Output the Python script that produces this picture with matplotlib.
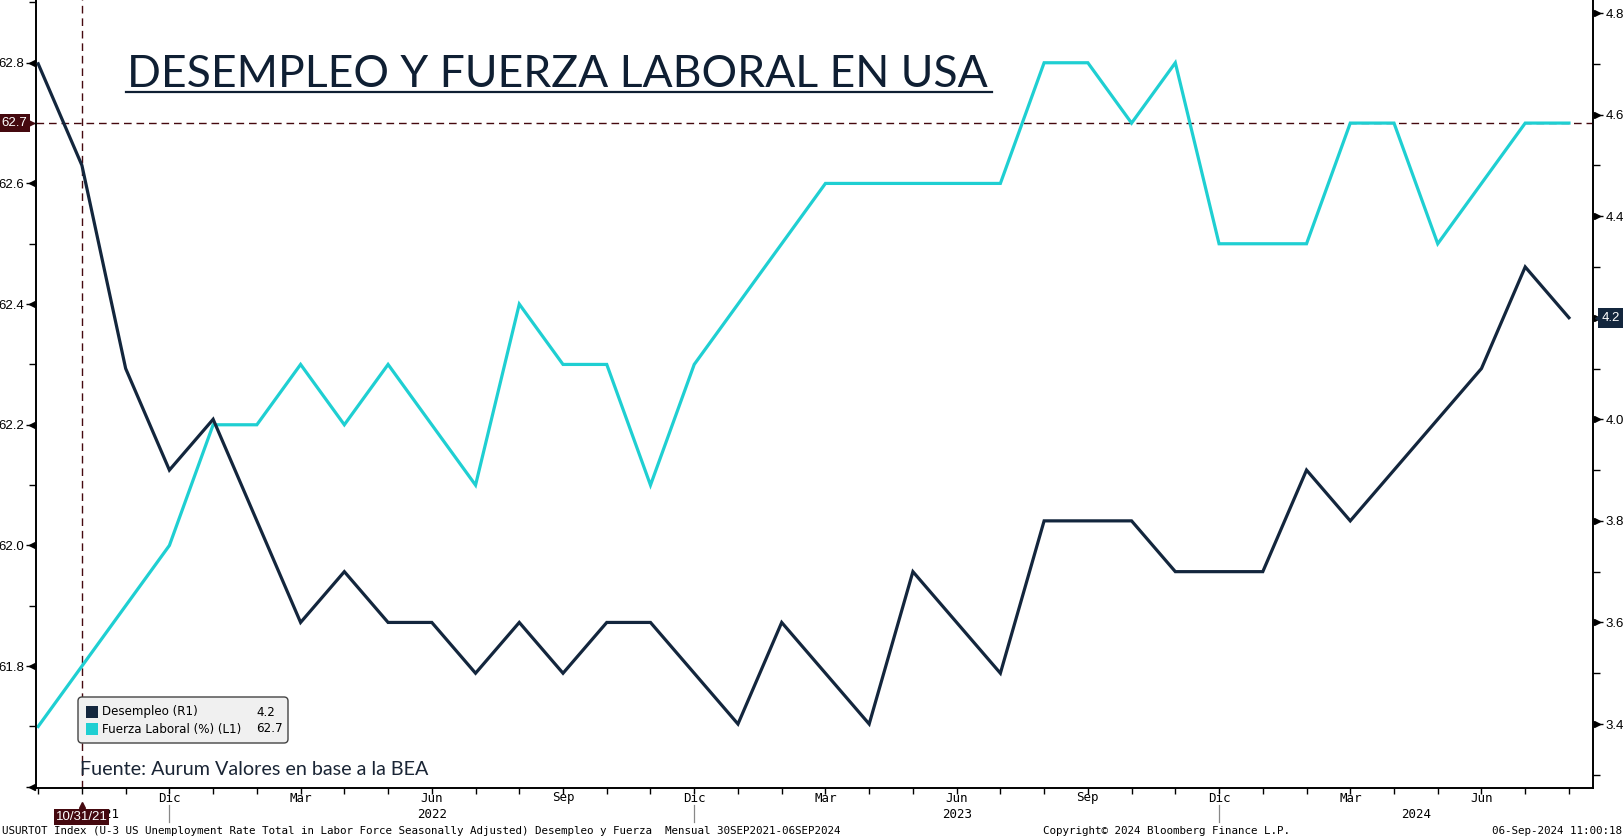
import matplotlib
matplotlib.use('Agg')
import matplotlib.pyplot as plt
import matplotlib.transforms as mtransforms
from matplotlib.patches import FancyBboxPatch, Rectangle
import numpy as np
import pandas as pd

W, H = 1624, 840

# monthly data, Sep 2021 - Aug 2024
fechas = pd.period_range('2021-09', '2024-08', freq='M')
desempleo = [4.7, 4.5, 4.1, 3.9, 4.0, 3.8, 3.6, 3.7, 3.6, 3.6, 3.5, 3.6,
             3.5, 3.6, 3.6, 3.5, 3.4, 3.6, 3.5, 3.4, 3.7, 3.6, 3.5, 3.8,
             3.8, 3.8, 3.7, 3.7, 3.7, 3.9, 3.8, 3.9, 4.0, 4.1, 4.3, 4.2]
fuerza = [61.7, 61.8, 61.9, 62.0, 62.2, 62.2, 62.3, 62.2, 62.3, 62.2, 62.1, 62.4,
          62.3, 62.3, 62.1, 62.3, 62.4, 62.5, 62.6, 62.6, 62.6, 62.6, 62.6, 62.8,
          62.8, 62.7, 62.8, 62.5, 62.5, 62.5, 62.7, 62.7, 62.5, 62.6, 62.7, 62.7]
nombres_mes = {3: 'Mar', 6: 'Jun', 9: 'Sep', 12: 'Dic'}
fecha_marca = '10/31/21'
idx_marca = 1

navy = '#13263d'
cyan = '#1fcfd2'
maroon = '#45090f'
fnum = 'Liberation Sans'

x = np.arange(len(fechas))

def fx(px):
    return px / W

def fy(py):
    return 1 - py / H

fig = plt.figure(figsize=(W / 100, H / 100), dpi=100)
ax = fig.add_axes([fx(36), fy(788), fx(1593) - fx(36), 788 / H])
ax2 = ax.twinx()

ax.plot(x, fuerza, color=cyan, lw=2.3, solid_joinstyle='miter', zorder=3)
ax2.plot(x, desempleo, color=navy, lw=2.3, solid_joinstyle='miter', zorder=3)

ax.set_xlim(-0.05, 35.55)
ax.set_ylim(61.598, 62.904)
ax2.set_ylim(3.274, 4.8256)

for a in (ax, ax2):
    a.spines['top'].set_visible(False)
    for s in ('left', 'right', 'bottom'):
        a.spines[s].set_linewidth(1.2)
        a.spines[s].set_color('black')

# x ticks: every month, labels done by hand
ax.set_xticks(x)
ax.set_xticklabels([])
ax.tick_params(axis='x', length=4, width=1, direction='out', color='black')
xt = ax.get_xaxis_transform()
for i, p in enumerate(fechas):
    if p.month in nombres_mes and i > 0:
        ax.text(i, -10 / 788, nombres_mes[p.month], transform=xt, ha='center', va='center',
                fontsize=9, family='DejaVu Sans Mono', color='black', clip_on=False)
    if p.month == 12:
        ax.plot([i, i], [-17 / 788, -34 / 788], transform=xt, color='#888888', lw=0.9, clip_on=False)
for anio in sorted(set(p.year for p in fechas)):
    pos = [i for i, p in enumerate(fechas) if p.year == anio]
    if len(pos) == 12:
        xc = pos[5]
    else:
        xc = (pos[0] + pos[-1]) / 2
    ax.text(xc, -26 / 788, str(anio), transform=xt, ha='center', va='center',
            fontsize=9, family='DejaVu Sans Mono', color='black', clip_on=False, zorder=2)

# left axis ticks
maj_l = np.round(np.arange(61.6, 62.81, 0.2), 1)
ax.set_yticks(maj_l)
ax.set_yticklabels(['' if v == 61.6 else f'{v:.1f}' for v in maj_l], family=fnum)
ax.set_yticks(np.round(np.arange(61.7, 62.91, 0.2), 1), minor=True)
ax.tick_params(axis='y', which='major', length=7, width=1, pad=1.5, labelsize=9.5, labelcolor='black')
ax.tick_params(axis='y', which='minor', length=5, width=1)
tl = mtransforms.offset_copy(ax.get_yaxis_transform(), fig, x=-4, units='dots')
ax.plot([0] * len(maj_l), maj_l, ls='none', marker='<', ms=4.5, color='black',
        transform=tl, clip_on=False)

# right axis ticks
maj_r = np.round(np.arange(3.4, 4.81, 0.2), 1)
ax2.set_yticks(maj_r)
ax2.set_yticklabels(['' if v == desempleo[-1] else f'{v:.1f}' for v in maj_r], family=fnum)
ax2.set_yticks(np.round(np.arange(3.3, 4.71, 0.2), 1), minor=True)
ax2.tick_params(axis='y', which='major', length=7, width=1, pad=2, labelsize=9.5, labelcolor='black')
ax2.tick_params(axis='y', which='minor', length=5, width=1)
tr = mtransforms.offset_copy(ax2.get_yaxis_transform(), fig, x=4, units='dots')
ax2.plot([1] * len(maj_r), maj_r, ls='none', marker='>', ms=4.5, color='black',
         transform=tr, clip_on=False)

# crosshair lines
ax.axhline(fuerza[-1], color=maroon, lw=1.0, dashes=(5.5, 3.5), zorder=2)
ax.axvline(idx_marca, color=maroon, lw=1.0, dashes=(5.5, 3.5), zorder=2)

# value tags
t = mtransforms.offset_copy(ax.get_yaxis_transform(), fig, x=-9, units='dots')
ax.text(0, fuerza[-1], f'{fuerza[-1]:.1f}', transform=t, ha='right', va='center', fontsize=9.5,
        family=fnum, color='white', bbox=dict(boxstyle='square,pad=0.25', fc=maroon, ec='none'),
        clip_on=False, zorder=6)
ax.plot([0], [fuerza[-1]], ls='none', marker='>', ms=5, color=maroon,
        transform=mtransforms.offset_copy(ax.get_yaxis_transform(), fig, x=-5, units='dots'),
        clip_on=False, zorder=6)

t = mtransforms.offset_copy(ax2.get_yaxis_transform(), fig, x=9, units='dots')
ax2.text(1, desempleo[-1], f'{desempleo[-1]:.1f}', transform=t, ha='left', va='center', fontsize=9.5,
         family=fnum, color='white', bbox=dict(boxstyle='square,pad=0.3', fc=navy, ec='none'),
         clip_on=False, zorder=6)
ax2.plot([1], [desempleo[-1]], ls='none', marker='<', ms=5, color=navy,
         transform=mtransforms.offset_copy(ax2.get_yaxis_transform(), fig, x=5, units='dots'),
         clip_on=False, zorder=6)

ax.text(idx_marca, -29 / 788, fecha_marca, transform=xt, ha='center', va='center', fontsize=9.5,
        family=fnum, color='white', bbox=dict(boxstyle='square,pad=0.12', fc=maroon, ec='none'),
        clip_on=False, zorder=6)
ax.plot([idx_marca], [-17 / 788], ls='none', marker='^', ms=5, color=maroon, transform=xt,
        clip_on=False, zorder=6)

# legend box
leg = FancyBboxPatch((78, H - 743), 210, 46, boxstyle='round,pad=0,rounding_size=4',
                     transform=None, fc='#f0f0f0', ec='#444444', lw=1, zorder=10)
fig.patches.append(leg)
filas = [(navy, 'Desempleo (R1)', f'{desempleo[-1]:.1f}', 712),
         (cyan, 'Fuerza Laboral (%) (L1)', f'{fuerza[-1]:.1f}', 729)]
for col, nombre, val, yy in filas:
    fig.patches.append(Rectangle((86, H - yy - 6), 12, 12, transform=None, fc=col, ec='none', zorder=11))
    fig.text(fx(102), fy(yy), nombre, ha='left', va='center', fontsize=8.6, color='black', zorder=12)
    fig.text(fx(256), fy(yy), val, ha='left', va='center', fontsize=8.6, color='black', zorder=12)

# title and source
titulo = fig.text(fx(127), fy(87), 'DESEMPLEO Y FUERZA LABORAL EN USA', ha='left', va='baseline',
                  fontsize=32, family='Lato', color='#0f1f33')
fuente = fig.text(fx(80), fy(775), 'Fuente: Aurum Valores en base a la BEA', ha='left', va='baseline',
                  fontsize=13, family='Lato', color='#1a2535')
fig.canvas.draw()
r = fig.canvas.get_renderer()
titulo.set_fontsize(32 * 862 / titulo.get_window_extent(r).width)
fuente.set_fontsize(13 * 348 / fuente.get_window_extent(r).width)
fig.add_artist(plt.Line2D([fx(126), fx(992)], [fy(92), fy(92)], transform=fig.transFigure,
                          color='#0f1f33', lw=1.6))

# footer
pie = dict(va='center', fontsize=7.8, family='DejaVu Sans Mono', color='black')
fig.text(fx(2), fy(831), 'USURTOT Index (U-3 US Unemployment Rate Total in Labor Force Seasonally Adjusted) '
         'Desempleo y Fuerza  Mensual 30SEP2021-06SEP2024', ha='left', **pie)
fig.text(fx(1043), fy(831), 'Copyright\u00a9 2024 Bloomberg Finance L.P.', ha='left', **pie)
fig.text(fx(1622), fy(831), '06-Sep-2024 11:00:18', ha='right', **pie)

fig.savefig('out.png', dpi=100)
